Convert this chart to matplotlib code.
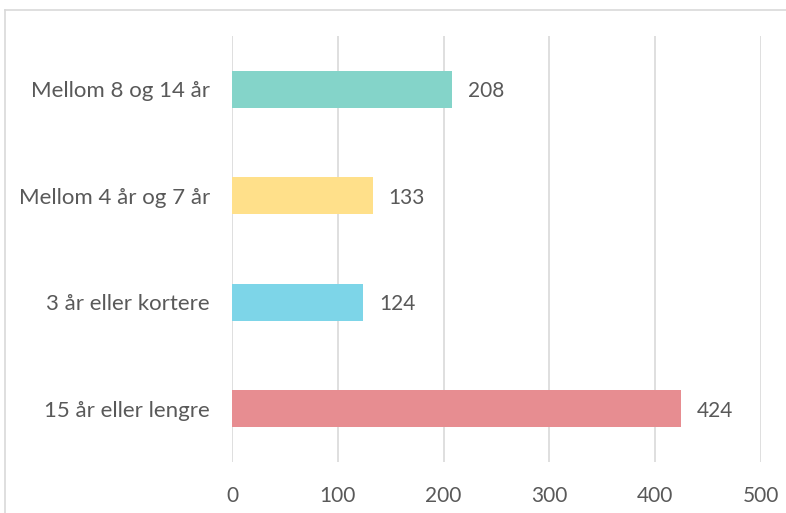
import matplotlib.pyplot as plt
from matplotlib.lines import Line2D

# Dados
categorias = ['15 år eller lengre', '3 år eller kortere', 'Mellom 4 år og 7 år', 'Mellom 8 og 14 år']
valores = [424, 124, 133, 208]
cores = ['#E78D91', '#7DD5E8', '#FFE08A', '#84D4C9']
ticks_x = [0, 100, 200, 300, 400, 500]

plt.rcParams['font.family'] = ['Lato', 'DejaVu Sans']
cinza = '#595959'

fig = plt.figure(figsize=(7.86, 5.13), dpi=100)
ax = fig.add_axes([232 / 786, 1 - 462 / 513, 529 / 786, 426 / 513])

pos = range(len(categorias))
barras = ax.barh(pos, valores, height=0.35, color=cores, zorder=3)

for b, v in zip(barras, valores):
    ax.text(b.get_width() + 15, b.get_y() + b.get_height() / 2, str(v),
            va='center_baseline', ha='left', fontsize=15, color=cinza)

ax.set_xlim(0, 500)
ax.set_ylim(-0.5, 3.5)
ax.set_xticks(ticks_x)
ax.set_yticks(list(pos))
ax.set_yticklabels(categorias, va='center_baseline')
ax.tick_params(axis='both', length=0, labelsize=16, labelcolor=cinza)
ax.tick_params(axis='x', labelsize=15, pad=17)
ax.tick_params(axis='y', pad=16)
ax.grid(axis='x', color='#D9D9D9', linewidth=1.2, zorder=0)
for s in ax.spines.values():
    s.set_visible(False)

# Moldura do gráfico
fig.add_artist(Line2D([4.5 / 786, 4.5 / 786], [0, 1 - 10 / 513], transform=fig.transFigure,
                      color='#D9D9D9', linewidth=1.2))
fig.add_artist(Line2D([4.5 / 786, 1], [1 - 10 / 513, 1 - 10 / 513], transform=fig.transFigure,
                      color='#D9D9D9', linewidth=1.2))

fig.savefig('out.png', dpi=100)
